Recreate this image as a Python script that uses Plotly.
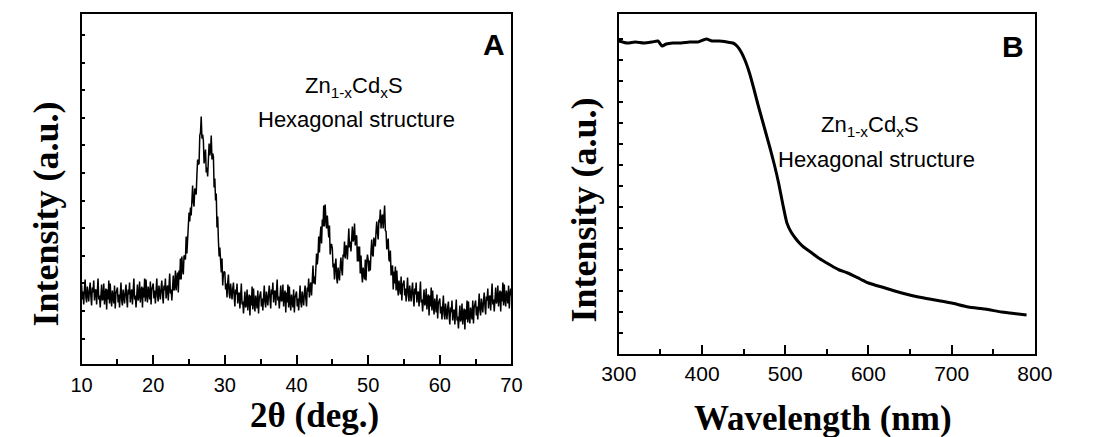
import numpy as np
import plotly.graph_objects as go

# ---------------- data ----------------
# Panel A: XRD pattern, 2theta 10..70 deg sampled every 0.1 deg
two_theta = np.round(np.arange(10.0, 70.00001, 0.1), 1)
xrd_intensity = [
    79, 64, 72, 59, 75, 84, 66, 61, 77, 68,   # 10
    62, 74, 81, 67, 58, 76, 71, 83, 63, 73,   # 11
    74, 59, 77, 85, 64, 68, 56, 73, 79, 63,   # 12
    65, 80, 59, 70, 75, 54, 74, 64, 83, 60,   # 13
    80, 65, 57, 73, 68, 60, 78, 55, 70, 75,   # 14
    76, 61, 69, 56, 72, 81, 63, 58, 74, 65,   # 15
    60, 72, 79, 65, 56, 74, 69, 81, 61, 71,   # 16
    74, 59, 77, 85, 64, 68, 56, 73, 79, 63,   # 17
    67, 82, 61, 72, 77, 56, 76, 66, 85, 62,   # 18
    84, 69, 61, 77, 72, 64, 82, 59, 74, 79,   # 19
    80, 65, 73, 60, 76, 85, 67, 62, 78, 69,   # 20
    64, 76, 83, 69, 60, 78, 73, 85, 65, 75,   # 21
    78, 63, 82, 90, 70, 74, 63, 81, 88, 73,   # 22
    77, 93, 73, 85, 91, 71, 93, 84, 105, 84,  # 23
    107, 94, 89, 108, 107, 104, 127, 110, 131, 143,   # 24
    151, 142, 156, 148, 167, 178, 161, 157, 175, 170, # 25
    169, 189, 204, 199, 200, 228, 231, 247, 225, 229, # 26
    223, 200, 211, 214, 191, 196, 187, 209, 220, 208, # 27
    213, 228, 204, 210, 207, 176, 185, 163, 170, 136, # 28
    147, 123, 107, 116, 105, 91, 105, 78, 90, 92,     # 29
    91, 74, 80, 66, 81, 89, 70, 65, 80, 71,   # 30
    64, 75, 81, 67, 57, 74, 69, 80, 60, 69,   # 31
    71, 55, 73, 80, 59, 62, 50, 67, 72, 56,   # 32
    59, 74, 53, 64, 69, 48, 68, 58, 77, 54,   # 33
    75, 60, 52, 68, 63, 55, 73, 50, 65, 70,   # 34
    72, 57, 65, 53, 69, 78, 61, 56, 72, 64,   # 35
    58, 70, 78, 64, 55, 74, 69, 81, 61, 71,   # 36
    73, 58, 76, 84, 63, 67, 55, 72, 78, 62,   # 37
    64, 79, 57, 68, 73, 51, 71, 61, 79, 56,   # 38
    77, 61, 53, 69, 64, 56, 74, 51, 66, 71,   # 39
    72, 57, 65, 53, 69, 78, 61, 56, 72, 64,   # 40
    58, 71, 78, 65, 57, 76, 72, 85, 66, 77,   # 41
    81, 68, 88, 98, 80, 87, 79, 100, 110, 99, # 42
    107, 127, 111, 127, 137, 120, 144, 137, 158, 137, # 43
    159, 144, 135, 148, 139, 126, 138, 109, 119, 119, # 44
    115, 96, 100, 84, 98, 105, 86, 80, 96, 88,        # 45
    83, 97, 106, 94, 88, 109, 107, 122, 105, 118,     # 46
    117, 104, 125, 135, 116, 122, 112, 130, 137, 122, # 47
    125, 140, 118, 127, 128, 102, 117, 102, 117, 90,  # 48
    108, 91, 81, 96, 91, 84, 104, 83, 101, 109,       # 49
    104, 92, 103, 93, 112, 124, 109, 107, 126, 120,   # 50
    117, 132, 142, 131, 124, 144, 141, 154, 135, 146, # 51
    149, 135, 152, 158, 133, 132, 114, 125, 125, 104, # 52
    102, 113, 88, 96, 98, 74, 92, 80, 97, 73,         # 53
    93, 77, 68, 83, 78, 69, 87, 63, 78, 82,   # 54
    83, 68, 75, 62, 77, 86, 68, 62, 78, 69,   # 55
    62, 74, 81, 66, 57, 75, 69, 81, 61, 70,   # 56
    72, 57, 74, 82, 61, 64, 52, 69, 74, 58,   # 57
    61, 75, 54, 65, 69, 48, 68, 57, 76, 53,   # 58
    73, 58, 49, 65, 60, 51, 69, 45, 60, 65,   # 59
    65, 50, 57, 44, 59, 68, 49, 44, 60, 50,   # 60
    44, 56, 62, 48, 39, 56, 51, 63, 43, 52,   # 61
    54, 39, 57, 64, 43, 47, 35, 52, 58, 42,   # 62
    45, 60, 39, 50, 55, 34, 54, 44, 63, 41,   # 63
    62, 47, 40, 56, 52, 44, 63, 40, 56, 61,   # 64
    63, 48, 57, 44, 61, 70, 53, 48, 65, 56,   # 65
    51, 63, 71, 57, 49, 67, 63, 75, 55, 66,   # 66
    68, 53, 72, 80, 59, 64, 52, 69, 76, 60,   # 67
    63, 78, 57, 68, 73, 52, 72, 62, 81, 58,   # 68
    79, 64, 57, 73, 68, 60, 78, 55, 70, 75,   # 69
    68,                                        # 70
]

# Panel B: UV-vis spectrum
uv_wavelength = [300, 310, 320, 330, 340, 347, 352, 357, 365, 375,
                 385, 395, 405, 412, 420, 430, 437, 442, 447, 452,
                 457, 462, 467, 472, 477, 482, 487, 492, 497, 502,
                 507, 512, 517, 522, 527, 532, 540, 550, 558, 565,
                 575, 590, 600, 620, 640, 660, 680, 700, 720, 740,
                 760, 770, 780, 790]
uv_intensity = [313, 311, 312, 311, 312, 313, 308, 310, 311, 311,
                312, 312, 315, 313, 313, 312, 311, 308, 302, 293,
                281, 266, 250, 235, 220, 205, 189, 171, 150, 131,
                122, 116, 111, 107, 104, 101, 96, 91, 87, 84,
                81, 75, 71, 66, 61, 57, 54, 51, 47, 45,
                42, 41, 40, 39]

panel_letters = ["A", "B"]
formula_text = "Zn<sub>1-x</sub>Cd<sub>x</sub>S"
structure_text = "Hexagonal structure"
x_titles = ["2θ (deg.)", "Wavelength (nm)"]
y_title = "Intensity (a.u.)"

# ---------------- layout helpers ----------------
W, H = 1109, 437
def px(x):
    return x / W
def py(y):
    return 1 - y / H

SANS = "Arial, Liberation Sans, sans-serif"
SERIF = "Times New Roman, Liberation Serif, serif"

fig = go.Figure()
fig.add_trace(go.Scatter(x=two_theta, y=xrd_intensity, mode="lines",
                         line=dict(color="black", width=1.5),
                         xaxis="x", yaxis="y", showlegend=False, hoverinfo="skip"))
fig.add_trace(go.Scatter(x=uv_wavelength, y=uv_intensity, mode="lines",
                         line=dict(color="black", width=3, shape="spline", smoothing=0.6),
                         xaxis="x2", yaxis="y2", showlegend=False, hoverinfo="skip"))

common = dict(showline=True, linecolor="black", linewidth=1.5, mirror=True,
              ticks="inside", tickcolor="black", tickwidth=1.5,
              showgrid=False, zeroline=False)

A_L, A_R, A_T, A_B = 65.7, 510, 13.5, 363.5
B_L, B_R, B_T, B_B = 621, 1051, 14, 354

ya_ticks = [25 + 27.6 * k for k in range(12)]
yb_ticks = [21 * k for k in range(1, 16)]

fig.update_layout(
    width=W, height=H,
    margin=dict(l=0, r=0, t=0, b=0),
    paper_bgcolor="white", plot_bgcolor="white",
    xaxis=dict(domain=[px(A_L), px(A_R)], range=[10, 70], anchor="y",
               tickmode="linear", tick0=10, dtick=10, ticklen=9,
               minor=dict(ticks="inside", ticklen=5, tickwidth=1.5, tickcolor="black",
                          tick0=5, dtick=5),
               ticklabelstandoff=3,
               tickfont=dict(family=SANS, size=20, color="black"), **common),
    yaxis=dict(domain=[py(A_B), py(A_T)], range=[0, A_B - A_T], anchor="x",
               tickmode="array", tickvals=ya_ticks, ticklen=4, showticklabels=False,
               **common),
    xaxis2=dict(domain=[px(B_L), px(B_R)], range=[300, 800], anchor="y2",
                tickmode="linear", tick0=300, dtick=100, ticklen=9,
                minor=dict(ticks="inside", ticklen=5, tickwidth=1.5, tickcolor="black",
                           tick0=350, dtick=50),
                ticklabelstandoff=0,
                tickfont=dict(family=SANS, size=21, color="black"), **common),
    yaxis2=dict(domain=[py(B_B), py(B_T)], range=[0, B_B - B_T], anchor="x2",
                tickmode="array", tickvals=yb_ticks, ticklen=4, showticklabels=False,
                **common),
)

ann = []
def add(text, x, y, size, family, angle=0):
    ann.append(dict(text=text, x=px(x), y=py(y), xref="paper", yref="paper",
                    xanchor="center", yanchor="middle", showarrow=False, textangle=angle,
                    font=dict(family=family, size=size, color="black")))

# panel letters
add("<b>%s</b>" % panel_letters[0], 492, 44, 30, SANS)
add("<b>%s</b>" % panel_letters[1], 1028, 47, 30, SANS)
# inner texts
add(formula_text, 347, 87, 22, SANS)
add(structure_text, 350, 119, 22, SANS)
add(formula_text, 881, 126, 22, SANS)
add(structure_text, 887, 159, 22, SANS)
# axis titles
add("<b>%s</b>" % x_titles[0], 306, 415, 35, SERIF)
add("<b>%s</b>" % x_titles[1], 832, 418, 35, SERIF)
add("<b>%s</b>" % y_title, 28.5, 214, 36, SERIF, angle=-90)
add("<b>%s</b>" % y_title, 586, 209.5, 36, SERIF, angle=-90)

fig.update_layout(annotations=ann)
# remove the browser's default 8px body margin so the figure sits at the page origin
fig.write_html("out.html", config={"displayModeBar": False},
               post_script="document.body.style.margin='0';")
